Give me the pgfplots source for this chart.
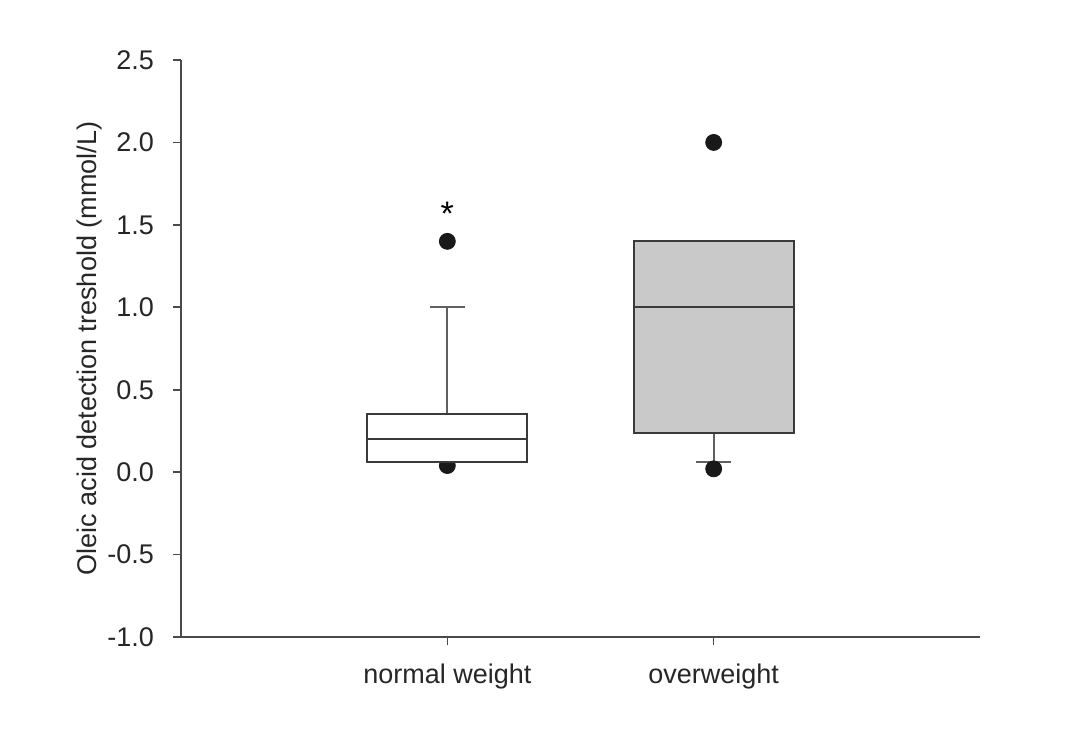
\documentclass[border=0pt]{standalone}
\usepackage{fontspec}
\setmainfont{Liberation Sans}
\usepackage{pgfplots}
\pgfplotsset{compat=1.18}
\usepgfplotslibrary{statistics}
\definecolor{axgray}{HTML}{4A4A4A}
\definecolor{boxline}{HTML}{3A3A3A}
\definecolor{boxfill}{HTML}{C9C9C9}
\begin{document}
\begin{tikzpicture}
\useasboundingbox (0,0) rectangle (543pt,370pt);
\begin{axis}[
  at={(90.5pt,51.5pt)}, anchor=south west,
  scale only axis, width=399.5pt, height=288.5pt,
  xmin=0, xmax=3, ymin=-1, ymax=2.5,
  axis x line*=bottom, axis y line*=left,
  axis line style={axgray, line width=1.1pt},
  xtick={1,2}, xticklabels={normal weight, overweight},
  ytick={-1,-0.5,0,0.5,1,1.5,2,2.5},
  yticklabel style={/pgf/number format/fixed, /pgf/number format/fixed zerofill, /pgf/number format/precision=1},
  /pgf/number format/assume math mode=true,
  tick align=outside,
  major tick length=4pt,
  tick style={axgray, line width=0.8pt},
  ticklabel style={font=\fontsize{13.5}{16}\selectfont, text=black!85},
  xticklabel style={yshift=-6pt},
  yticklabel style={xshift=-6pt},
  ylabel={Oleic acid detection treshold (mmol/L)},
  ylabel style={font=\fontsize{13.5}{16}\selectfont, text=black!85, yshift=-4pt},
  boxplot/draw direction=y,
  clip=false,
  clip marker paths=true,
]
% outlier partly hidden behind the normal-weight box
\addplot[only marks, mark=*, mark size=4pt, color=black!90] coordinates {(1,0.04)};
\addplot+[boxplot prepared={lower whisker=0.06, lower quartile=0.06, median=0.2,
  upper quartile=0.35, upper whisker=1.0, draw position=1, box extend=0.6, whisker extend=0.13},
  draw=boxline, line width=1pt, fill=white, solid, mark=none,
  boxplot/every whisker/.style={draw=gray!75!black, line width=1pt}]
  coordinates {};
\addplot+[boxplot prepared={lower whisker=0.06, lower quartile=0.24, median=1.0,
  upper quartile=1.4, upper whisker=1.4, draw position=2, box extend=0.6, whisker extend=0.13},
  draw=boxline, line width=1pt, fill=boxfill, solid, mark=none,
  boxplot/every whisker/.style={draw=gray!75!black, line width=1pt}]
  coordinates {};
\addplot[only marks, mark=*, mark size=4pt, color=black!90] coordinates {
  (1,1.4) (2,2.0) (2,0.02)
};
\node[font=\fontsize{17}{18}\selectfont] at (axis cs:1,1.57) {*};
\end{axis}
\end{tikzpicture}
\end{document}
